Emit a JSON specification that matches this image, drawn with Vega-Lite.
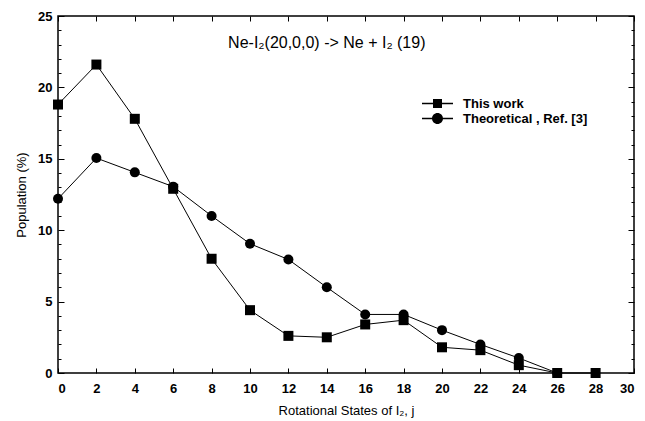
{
  "$schema": "https://vega.github.io/schema/vega-lite/v6.json",
  "width": 576,
  "height": 357,
  "autosize": {"type": "none"},
  "padding": {"left": 58, "top": 16, "right": 11, "bottom": 48},
  "background": "white",
  "config": {
    "font": "Liberation Sans",
    "view": {"stroke": "black", "strokeWidth": 1.5},
    "axis": {"grid": false, "domain": false, "tickColor": "black", "labelColor": "black", "titleColor": "black", "labelFont": "Liberation Sans", "titleFont": "Liberation Sans", "labelFontWeight": "bold", "labelFontSize": 13, "titleFontSize": 13, "titleFontWeight": "normal", "labelOverlap": false, "tickWidth": 1}
  },
  "resolve": {"axis": {"x": "independent", "y": "independent"}, "scale": {"shape": "independent"}},
  "datasets": {
    "pop": [
      {"j": 0, "series": "This work", "p": 18.8},
      {"j": 2, "series": "This work", "p": 21.6},
      {"j": 4, "series": "This work", "p": 17.8},
      {"j": 6, "series": "This work", "p": 12.9},
      {"j": 8, "series": "This work", "p": 8.0},
      {"j": 10, "series": "This work", "p": 4.4},
      {"j": 12, "series": "This work", "p": 2.6},
      {"j": 14, "series": "This work", "p": 2.5},
      {"j": 16, "series": "This work", "p": 3.4},
      {"j": 18, "series": "This work", "p": 3.7},
      {"j": 20, "series": "This work", "p": 1.8},
      {"j": 22, "series": "This work", "p": 1.6},
      {"j": 24, "series": "This work", "p": 0.55},
      {"j": 26, "series": "This work", "p": 0},
      {"j": 28, "series": "This work", "p": 0},
      {"j": 0, "series": "Theoretical , Ref. [3]", "p": 12.2},
      {"j": 2, "series": "Theoretical , Ref. [3]", "p": 15.05},
      {"j": 4, "series": "Theoretical , Ref. [3]", "p": 14.05},
      {"j": 6, "series": "Theoretical , Ref. [3]", "p": 13.05},
      {"j": 8, "series": "Theoretical , Ref. [3]", "p": 11.0},
      {"j": 10, "series": "Theoretical , Ref. [3]", "p": 9.05},
      {"j": 12, "series": "Theoretical , Ref. [3]", "p": 7.95},
      {"j": 14, "series": "Theoretical , Ref. [3]", "p": 6.0},
      {"j": 16, "series": "Theoretical , Ref. [3]", "p": 4.1},
      {"j": 18, "series": "Theoretical , Ref. [3]", "p": 4.1},
      {"j": 20, "series": "Theoretical , Ref. [3]", "p": 3.0},
      {"j": 22, "series": "Theoretical , Ref. [3]", "p": 2.0},
      {"j": 24, "series": "Theoretical , Ref. [3]", "p": 1.05},
      {"j": 26, "series": "Theoretical , Ref. [3]", "p": 0}
    ],
    "label": [{"j": 14, "p": 23.1, "t": "Ne-I₂(20,0,0) -> Ne + I₂ (19)"}]
  },
  "layer": [
    {
      "data": {"name": "pop"},
      "mark": {"type": "line", "color": "black", "strokeWidth": 1},
      "encoding": {
        "x": {"field": "j", "type": "quantitative", "scale": {"domain": [0, 30], "nice": false}, "axis": {"orient": "bottom", "title": "Rotational States of I₂, j", "values": [0,2,4,6,8,10,12,14,16,18,20,22,24,26,28,30], "tickSize": -5, "labelPadding": 14, "titlePadding": 9}},
        "y": {"field": "p", "type": "quantitative", "scale": {"domain": [0, 25], "nice": false}, "axis": {"orient": "left", "title": "Population (%)", "values": [0,1,2,3,4,5,6,7,8,9,10,11,12,13,14,15,16,17,18,19,20,21,22,23,24,25], "labelExpr": "datum.value % 5 === 0 ? datum.label : ''", "tickSize": {"condition": {"test": "datum.value % 5 === 0", "value": -6}, "value": -3}, "labelPadding": 12, "titlePadding": 9}},
        "detail": {"field": "series"}
      }
    },
    {
      "data": {"name": "pop"},
      "mark": {"type": "point", "filled": true, "color": "black", "opacity": 1, "size": 100},
      "encoding": {
        "x": {"field": "j", "type": "quantitative", "axis": {"orient": "top", "title": null, "labels": false, "values": [0,2,4,6,8,10,12,14,16,18,20,22,24,26,28,30], "tickSize": -5}},
        "y": {"field": "p", "type": "quantitative", "axis": {"orient": "right", "title": null, "labels": false, "values": [0,1,2,3,4,5,6,7,8,9,10,11,12,13,14,15,16,17,18,19,20,21,22,23,24,25], "tickSize": {"condition": {"test": "datum.value % 5 === 0", "value": -6}, "value": -3}}},
        "shape": {"field": "series", "type": "nominal", "scale": {"domain": ["This work", "Theoretical , Ref. [3]"], "range": ["square", "circle"]}, "legend": null}
      }
    },
    {
      "data": {"name": "pop"},
      "mark": {"type": "point", "filled": true, "color": "black", "opacity": 0},
      "encoding": {
        "x": {"field": "j", "type": "quantitative", "axis": null},
        "y": {"field": "p", "type": "quantitative", "axis": null},
        "shape": {"field": "series", "type": "nominal", "scale": {"domain": ["This work", "Theoretical , Ref. [3]"], "range": ["M-3.1,-0.15H3.1V0.15H-3.1Z M-0.9,-0.9H0.9V0.9H-0.9Z", "M-3.1,-0.15H3.1V0.15H-3.1Z M1.1,0A1.1,1.1 0 1,1 -1.1,0A1.1,1.1 0 1,1 1.1,0Z"]}, "legend": {"title": null, "orient": "none", "legendX": 373, "legendY": 81, "labelFontSize": 13, "labelFont": "Liberation Sans", "labelFontWeight": "bold", "labelColor": "black", "symbolOpacity": 1, "symbolSize": 100, "labelOffset": 19, "rowPadding": 1, "symbolFillColor": "black", "symbolStrokeColor": "black", "symbolStrokeWidth": 0}}
      }
    },
    {
      "data": {"name": "label"},
      "mark": {"type": "text", "fontSize": 16, "font": "Liberation Sans", "color": "black"},
      "encoding": {
        "x": {"field": "j", "type": "quantitative", "axis": null},
        "y": {"field": "p", "type": "quantitative", "axis": null},
        "text": {"field": "t"}
      }
    }
  ]
}
